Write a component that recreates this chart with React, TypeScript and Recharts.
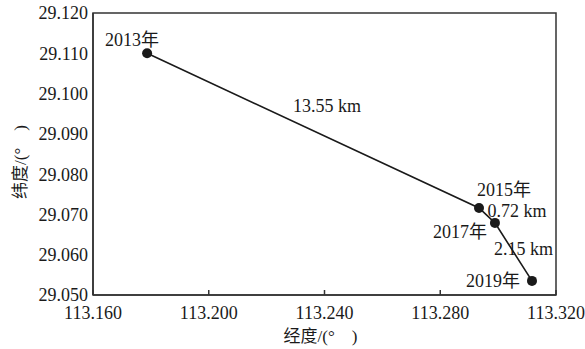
import {
  ReferenceArea,
  Scatter,
  ScatterChart,
  XAxis,
  YAxis,
} from "recharts";

// 各年份中心点坐标（经度、纬度）
const years = ["2013年", "2015年", "2017年", "2019年"];
const lon = [113.1787, 113.2934, 113.2989, 113.3117];
const lat = [29.11, 29.0716, 29.0679, 29.0535];
// 相邻两期之间的迁移距离
const distances = ["13.55 km", "0.72 km", "2.15 km"];

const xTicks = [113.16, 113.2, 113.24, 113.28, 113.32];
const yTicks = [29.05, 29.06, 29.07, 29.08, 29.09, 29.1, 29.11, 29.12];

// 文字相对于点/线段中点的偏移（像素）
const yearOffsets = [
  [-15, -13],
  [25, -18],
  [-35, 9],
  [-39, 0],
];
const distOffsets = [
  [14, -25],
  [30, -4],
  [10, -3],
];

const FONT =
  "'Liberation Serif', 'Times New Roman', 'Noto Sans CJK SC', serif";
const INK = "#1a1a1a";

const points = years.map((year, i) => ({ year, x: lon[i], y: lat[i], i }));
const mids = distances.map((d, i) => ({
  label: d,
  x: (lon[i] + lon[i + 1]) / 2,
  y: (lat[i] + lat[i + 1]) / 2,
  i,
}));

const PointShape = (props: any) => {
  const { cx, cy, payload } = props;
  const [dx, dy] = yearOffsets[payload.i];
  return (
    <g>
      <circle cx={cx} cy={cy} r={5} fill={INK} />
      <text
        x={cx + dx}
        y={cy + dy}
        textAnchor="middle"
        dominantBaseline="central"
        fontFamily={FONT}
        fontSize={18}
        fill={INK}
      >
        {payload.year}
      </text>
    </g>
  );
};

const DistShape = (props: any) => {
  const { cx, cy, payload } = props;
  const [dx, dy] = distOffsets[payload.i];
  return (
    <text
      x={cx + dx}
      y={cy + dy}
      textAnchor="middle"
      dominantBaseline="central"
      fontFamily={FONT}
      fontSize={18}
      fill={INK}
    >
      {payload.label}
    </text>
  );
};

const tickStyle = { fill: INK, fontSize: 18, fontFamily: FONT };

export default function App() {
  return (
    <div style={{ position: "absolute", left: 0, top: 0, background: "#fff" }}>
      <ScatterChart
        width={585}
        height={349}
        margin={{ top: 13, right: 29, bottom: 0, left: 0 }}
      >
        <XAxis
          type="number"
          dataKey="x"
          domain={[113.16, 113.32]}
          ticks={xTicks}
          allowDataOverflow
          height={54}
          tick={tickStyle}
          tickFormatter={(v: number) => v.toFixed(3)}
          tickSize={-5}
          tickMargin={16}
          stroke="#333"
          strokeWidth={1.5}
          label={(p: any) => {
            const vb = p.viewBox;
            return (
              <text
                x={vb.x + vb.width / 2 - 4}
                y={vb.y + 41}
                textAnchor="middle"
                dominantBaseline="central"
                fontFamily={FONT}
                fontSize={17}
                fill={INK}
              >
                经度/(°{"\u2003"})
              </text>
            );
          }}
        />
        <YAxis
          type="number"
          dataKey="y"
          domain={[29.05, 29.12]}
          ticks={yTicks}
          allowDataOverflow
          width={93}
          tick={tickStyle}
          tickFormatter={(v: number) => v.toFixed(3)}
          tickLine={false}
          tickSize={0}
          tickMargin={5}
          stroke="#333"
          strokeWidth={1.5}
          label={(p: any) => {
            const vb = p.viewBox;
            const cx = vb.x + 20;
            const cy = vb.y + vb.height / 2 + 8;
            return (
              <text
                x={cx}
                y={cy}
                transform={`rotate(-90 ${cx} ${cy})`}
                textAnchor="middle"
                dominantBaseline="central"
                fontFamily={FONT}
                fontSize={17}
                fill={INK}
              >
                纬度/(°{"\u2003"})
              </text>
            );
          }}
        />
        <ReferenceArea
          x1={113.16}
          x2={113.32}
          y1={29.05}
          y2={29.12}
          fill="none"
          stroke="#333"
          strokeWidth={1.5}
        />
        <Scatter
          data={points}
          line={{ stroke: INK, strokeWidth: 1.6 }}
          lineType="joint"
          shape={PointShape}
          isAnimationActive={false}
        />
        <Scatter data={mids} shape={DistShape} isAnimationActive={false} />
      </ScatterChart>
    </div>
  );
}
